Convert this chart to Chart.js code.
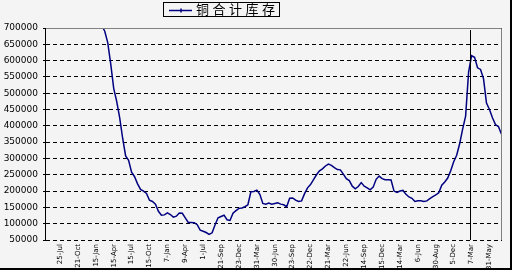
<!DOCTYPE html>
<html>
<head>
<meta charset="utf-8">
<script src="https://cdn.jsdelivr.net/npm/chart.js@4.4.1/dist/chart.umd.min.js"></script>
<style>
  html, body { margin: 0; padding: 0; background: #f4f4f4; }
  canvas { display: block; }
</style>
</head>
<body>
<canvas id="myChart-Stock" width="512" height="270"></canvas>
<script>
const seriesName = '铜合计库存';

// one label every 6 points
const tickLabels = [
  '25-Jul', '21-Oct', '15-Jan', '15-Apr', '15-Jul', '15-Oct', '7-Jan', '9-Apr',
  '1-Jul', '21-Sep', '23-Dec', '31-Mar', '30-Jun', '23-Sep', '22-Dec', '21-Mar',
  '22-Jun', '14-Sep', '15-Dec', '14-Mar', '6-Jun', '30-Aug', '5-Dec', '7-Mar', '31-May'
];
const tickStep = 6;

// series starts at point 14
const firstPoint = 14;
const stocks = [
  708000, 690000, 655000, 590000, 515000, 475000, 425000, 362000, 308000, 294000,
  258000, 244000, 222000, 205000, 200000, 193000, 172000, 168000, 160000, 138000,
  126000, 127000, 133000, 128000, 120000, 123000, 133000, 132000, 118000, 104000,
  104000, 103000, 97000, 80000, 77000, 73000, 67000, 72000, 97000, 118000,
  122000, 126000, 112000, 110000, 132000, 140000, 147000, 148000, 152000, 158000,
  198000, 199000, 203000, 190000, 162000, 160000, 163000, 160000, 162000, 164000,
  160000, 158000, 152000, 178000, 179000, 172000, 168000, 170000, 192000, 210000,
  220000, 235000, 250000, 262000, 268000, 277000, 283000, 279000, 272000, 266000,
  265000, 252000, 238000, 232000, 215000, 207000, 214000, 226000, 215000, 210000,
  204000, 212000, 236000, 246000, 238000, 235000, 235000, 234000, 200000, 196000,
  200000, 202000, 190000, 182000, 178000, 168000, 170000, 170000, 168000, 170000,
  177000, 183000, 188000, 195000, 218000, 228000, 240000, 262000, 290000, 310000,
  345000, 390000, 430000, 565000, 615000, 610000, 578000, 573000, 545000, 470000,
  450000, 425000, 404000, 398000, 375000
];

// vertical marker line
const markerAt = 137.4;

const yMin = 50000;
const yMax = 700000;
const yStep = 50000;

const points = stocks.map((v, i) => ({ x: firstPoint + i, y: v }));

const framePlugin = {
  id: 'frame',
  beforeDraw(chart) {
    const ctx = chart.ctx;
    ctx.save();
    ctx.fillStyle = '#f4f4f4';
    ctx.fillRect(0, 0, chart.width, chart.height);
    ctx.restore();
  },
  afterDatasetsDraw(chart) {
    const ctx = chart.ctx;
    const area = chart.chartArea;
    const x = Math.round(chart.scales.x.getPixelForValue(markerAt)) + 0.5;
    ctx.save();
    ctx.strokeStyle = '#000';
    ctx.lineWidth = 1;
    ctx.beginPath();
    ctx.moveTo(x, area.top + 2);
    ctx.lineTo(x, area.bottom);
    ctx.stroke();
    ctx.restore();
  },
  afterDraw(chart) {
    const ctx = chart.ctx;
    const area = chart.chartArea;
    ctx.save();
    // plot border top / right
    ctx.strokeStyle = '#808080';
    ctx.lineWidth = 1;
    ctx.beginPath();
    ctx.moveTo(area.left, area.top + 0.5);
    ctx.lineTo(area.right - 0.5, area.top + 0.5);
    ctx.lineTo(area.right - 0.5, area.bottom);
    ctx.stroke();

    // left axis, solid
    ctx.strokeStyle = '#000';
    ctx.beginPath();
    ctx.moveTo(area.left - 0.5, area.top);
    ctx.lineTo(area.left - 0.5, area.bottom + 1);
    ctx.stroke();

    // legend
    ctx.strokeRect(163.5, 2.5, 116, 14);
    ctx.strokeStyle = '#000080';
    ctx.lineWidth = 1.5;
    ctx.beginPath();
    ctx.moveTo(169, 10.5);
    ctx.lineTo(192, 10.5);
    ctx.moveTo(181, 8.5);
    ctx.lineTo(181, 12.5);
    ctx.stroke();
    ctx.fillStyle = '#000';
    ctx.font = '13px "Noto Sans CJK SC"';
    ctx.textBaseline = 'middle';
    const name = chart.data.datasets[0].label;
    for (let k = 0; k < name.length; k++) {
      ctx.fillText(name[k], 196 + 16.5 * k, 9.5);
    }

    // outer frame
    ctx.fillStyle = '#000';
    ctx.fillRect(chart.width - 2, 0, 2, chart.height);
    ctx.fillRect(0, chart.height - 2, chart.width, 2);
    ctx.restore();
  }
};

const stockChart = document.getElementById('myChart-Stock');

new Chart(stockChart, {
  type: 'line',
  data: {
    datasets: [{
      label: seriesName,
      data: points,
      borderColor: '#000080',
      borderWidth: 1.5,
      pointRadius: 0,
      tension: 0,
      fill: false
    }]
  },
  options: {
    responsive: false,
    animation: false,
    layout: {
      padding: { left: 0, right: 10, top: 28, bottom: 0 }
    },
    plugins: {
      legend: { display: false },
      tooltip: { enabled: false }
    },
    scales: {
      x: {
        type: 'linear',
        min: -4.7,
        max: 148.2,
        afterBuildTicks: (axis) => {
          axis.ticks = tickLabels.map((_, j) => ({ value: j * tickStep }));
        },
        afterFit: (scale) => { scale.height = 30; },
        grid: { display: false, drawTicks: false },
        border: { display: false },
        ticks: {
          autoSkip: false,
          minRotation: 90,
          maxRotation: 90,
          padding: 4,
          color: '#000',
          font: { family: 'DejaVu Sans', size: 7 },
          callback: (v, i) => tickLabels[i]
        }
      },
      y: {
        min: yMin,
        max: yMax,
        afterFit: (scale) => { scale.width = 46; },
        grid: {
          color: '#000',
          lineWidth: 1,
          tickLength: 3,
          tickColor: '#000',
          tickBorderDash: [10, 0]
        },
        border: { display: false, dash: [4, 3] },
        ticks: {
          stepSize: yStep,
          padding: 5,
          color: '#000',
          font: { family: 'DejaVu Sans', size: 9 },
          callback: (v) => String(v)
        }
      }
    }
  },
  plugins: [framePlugin]
});
</script>
</body>
</html>
